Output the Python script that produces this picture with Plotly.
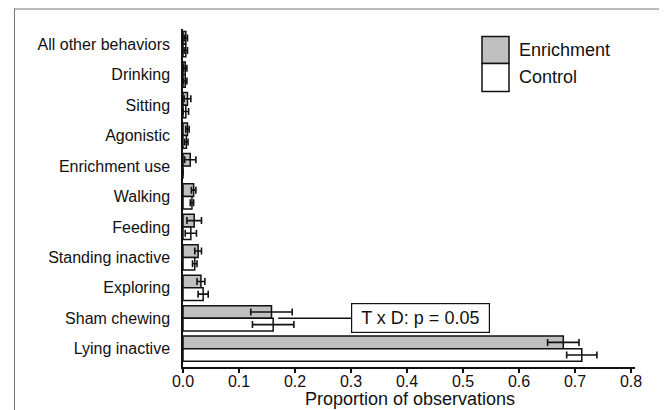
import plotly.graph_objects as go

categories = ["All other behaviors", "Drinking", "Sitting", "Agonistic", "Enrichment use",
              "Walking", "Feeding", "Standing inactive", "Exploring", "Sham chewing", "Lying inactive"]
enrichment = [0.005, 0.004, 0.008, 0.008, 0.013, 0.019, 0.020, 0.027, 0.032, 0.158, 0.679]
enrichment_err = [0.003, 0.003, 0.006, 0.003, 0.010, 0.004, 0.013, 0.006, 0.007, 0.037, 0.028]
control = [0.005, 0.004, 0.005, 0.006, 0.0, 0.016, 0.014, 0.021, 0.036, 0.161, 0.712]
control_err = [0.003, 0.003, 0.005, 0.003, 0.0, 0.003, 0.010, 0.004, 0.009, 0.037, 0.027]
x_ticks = [0.0, 0.1, 0.2, 0.3, 0.4, 0.5, 0.6, 0.7, 0.8]
x_tick_labels = ["0.0", "0.1", "0.2", "0.3", "0.4", "0.5", "0.6", "0.7", "0.8"]
x_title = "Proportion of observations"
annotation_text = "\u00a0T x D: p = 0.05\u00a0"

FONT = "Liberation Sans, Arial, sans-serif"

# page body has an 8px margin: work in figure coordinates = screen - 8
OFF = 8.0
W, H = 667.0 - OFF, 410.0 - OFF
pl, pr, pt, pb = 183.0 - OFF, 635.0 - OFF, 28.5 - OFF, 367.0 - OFF

def px(x):
    return (x - OFF - pl) / (pr - pl)

def py(y):
    return (pb - (y - OFF)) / (pb - pt)

fig = go.Figure()
for name, vals, errs, color in [("Enrichment", enrichment, enrichment_err, "#c0c0c0"),
                                ("Control", control, control_err, "#ffffff")]:
    fig.add_trace(go.Bar(
        name=name, y=categories, x=vals, orientation="h",
        marker=dict(color=color, line=dict(color="#111111", width=1.5)),
        error_x=dict(type="data", array=errs, visible=True, color="#111111",
                     thickness=1.6, width=3.5),
        showlegend=False,
    ))

fig.update_layout(
    width=W, height=H,
    margin=dict(l=pl, r=W - pr, t=pt, b=H - pb, pad=0),
    barmode="group", bargap=0.17, bargroupgap=0,
    plot_bgcolor="white", paper_bgcolor="white",
    font=dict(family=FONT, size=16, color="#111111"),
    xaxis=dict(range=[0, 0.807], tickvals=x_ticks, ticktext=x_tick_labels,
               showgrid=False, zeroline=False, showline=True, linecolor="#111111",
               linewidth=1.5, ticks="outside", ticklen=4, tickwidth=1.5, tickcolor="#111111",
               tickfont=dict(size=16), ticklabelstandoff=-5, automargin=False),
    yaxis=dict(categoryorder="array", categoryarray=categories, range=[10.6, -0.5],
               showgrid=False, zeroline=False, showline=True, linecolor="#111111",
               linewidth=1.5, ticks="", ticklabelstandoff=8, tickfont=dict(size=16),
               automargin=False),
)

# x axis title
fig.add_annotation(xref="paper", yref="paper", x=px(410), y=py(399.5), xanchor="center",
                   yanchor="middle", text=x_title, showarrow=False, font=dict(size=18))

# annotation connector and box
fig.add_shape(type="line", xref="x", yref="y", x0=0.17, x1=0.30,
              y0="Sham chewing", y1="Sham chewing", line=dict(color="#111111", width=1.5))
fig.add_annotation(x=0.30, y="Sham chewing", xref="x", yref="y", xanchor="left",
                   text=annotation_text, showarrow=False, font=dict(size=18),
                   bordercolor="#111111", borderwidth=1.2, borderpad=4, bgcolor="white")

# manual legend
for (y0, y1, color, label) in [(36, 63, "#c0c0c0", "Enrichment"), (63, 91, "#ffffff", "Control")]:
    fig.add_shape(type="rect", xref="paper", yref="paper",
                  x0=px(482), x1=px(509), y0=py(y1), y1=py(y0),
                  fillcolor=color, line=dict(color="#111111", width=1.5))
    fig.add_annotation(xref="paper", yref="paper", x=px(517), y=py((y0 + y1) / 2),
                       xanchor="left", yanchor="middle", text=label, showarrow=False,
                       font=dict(size=18))

# outer frame lines
fig.add_shape(type="line", xref="paper", yref="paper", x0=px(14), x1=px(675),
              y0=py(8.5), y1=py(8.5), line=dict(color="#777777", width=1))
fig.add_shape(type="line", xref="paper", yref="paper", x0=px(14.5), x1=px(14.5),
              y0=py(8), y1=py(420), line=dict(color="#777777", width=1))

fig.write_html("out.html")
